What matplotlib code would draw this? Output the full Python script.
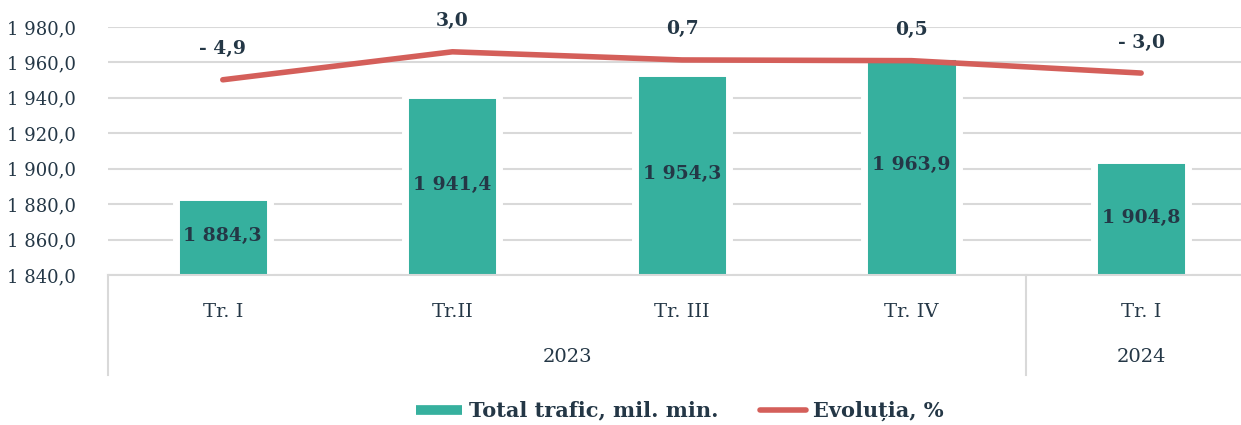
import matplotlib.pyplot as plt
from matplotlib.lines import Line2D

# data
quarters = ['Tr. I', 'Tr.II', 'Tr. III', 'Tr. IV', 'Tr. I']
years = ['2023', '2024']
year_spans = [(0, 3), (4, 4)]
traffic = [1884.3, 1941.4, 1954.3, 1963.9, 1904.8]
evolution = [-4.9, 3.0, 0.7, 0.5, -3.0]

TEAL = '#36B09E'
RED = '#D45F5A'
TXT = '#243746'
GRID = '#D9D9D9'


def fmt_num(v):
    s = '{:,.1f}'.format(v).replace(',', ' ').replace('.', ',')
    return s


def fmt_pct(v):
    s = '{:.1f}'.format(abs(v)).replace('.', ',')
    return '- ' + s if v < 0 else s


plt.rcParams['font.family'] = 'DejaVu Serif'

fig = plt.figure(figsize=(12.41, 4.25), dpi=100)
ax = fig.add_axes([108 / 1241, 150 / 425, 1133 / 1241, 248 / 425])

x = list(range(len(quarters)))
ax.bar(x, traffic, width=0.41, color=TEAL, edgecolor='white', linewidth=5, zorder=2)
for xi, v in zip(x, traffic):
    ax.text(xi, (1840 + v) / 2, fmt_num(v), ha='center', va='center',
            fontsize=13.5, fontweight='bold', color=TXT, zorder=3)

ax.set_ylim(1840, 1980)
ax.set_yticks(range(1840, 1981, 20))
ax.set_yticklabels([fmt_num(t) for t in range(1840, 1981, 20)])
ax.set_xlim(-0.5, 4.435)
ax.set_xticks(x)
ax.set_xticklabels(quarters)
ax.tick_params(axis='both', length=0, labelcolor=TXT)
ax.tick_params(axis='x', pad=20, labelsize=14)
ax.tick_params(axis='y', pad=23, labelsize=13)
ax.grid(axis='y', color=GRID, linewidth=1.5)
ax.set_axisbelow(True)
for s in ['top', 'right', 'left']:
    ax.spines[s].set_visible(False)
ax.spines['bottom'].set_color(GRID)
ax.spines['bottom'].set_linewidth(1.5)
ax.spines['bottom'].set_zorder(4)

# year level of the category axis
for yr, (a, b) in zip(years, year_spans):
    ax.text((a + b) / 2, -0.33, yr, transform=ax.get_xaxis_transform(),
            ha='center', va='center', fontsize=14, color=TXT)
for sep in [-0.5, 3.5]:
    ax.add_line(Line2D([sep, sep], [0, -0.405], transform=ax.get_xaxis_transform(),
                       color=GRID, linewidth=1.5, clip_on=False))

ax2 = ax.twinx()
ax2.set_ylim(-60, 10)
ax2.plot(x, evolution, color=RED, linewidth=4, solid_capstyle='round')
for xi, v in zip(x, evolution):
    ax2.annotate(fmt_pct(v), (xi, v), xytext=(0, 22), textcoords='offset points',
                 ha='center', va='center', fontsize=13.5, fontweight='bold',
                 color=TXT, annotation_clip=False)
ax2.axis('off')

handles = [Line2D([], [], color=TEAL, linewidth=7, solid_capstyle='butt'),
           Line2D([], [], color=RED, linewidth=4, solid_capstyle='round')]
leg = fig.legend(handles, ['Total trafic, mil. min.', 'Evoluția, %'],
                 loc='center', bbox_to_anchor=(680 / 1241, 1 - 411 / 425), ncol=2,
                 frameon=False, handlelength=2.2, handletextpad=0.35, columnspacing=2.0,
                 prop={'weight': 'bold', 'size': 15})
for t in leg.get_texts():
    t.set_color(TXT)

fig.savefig('out.png', dpi=100)
